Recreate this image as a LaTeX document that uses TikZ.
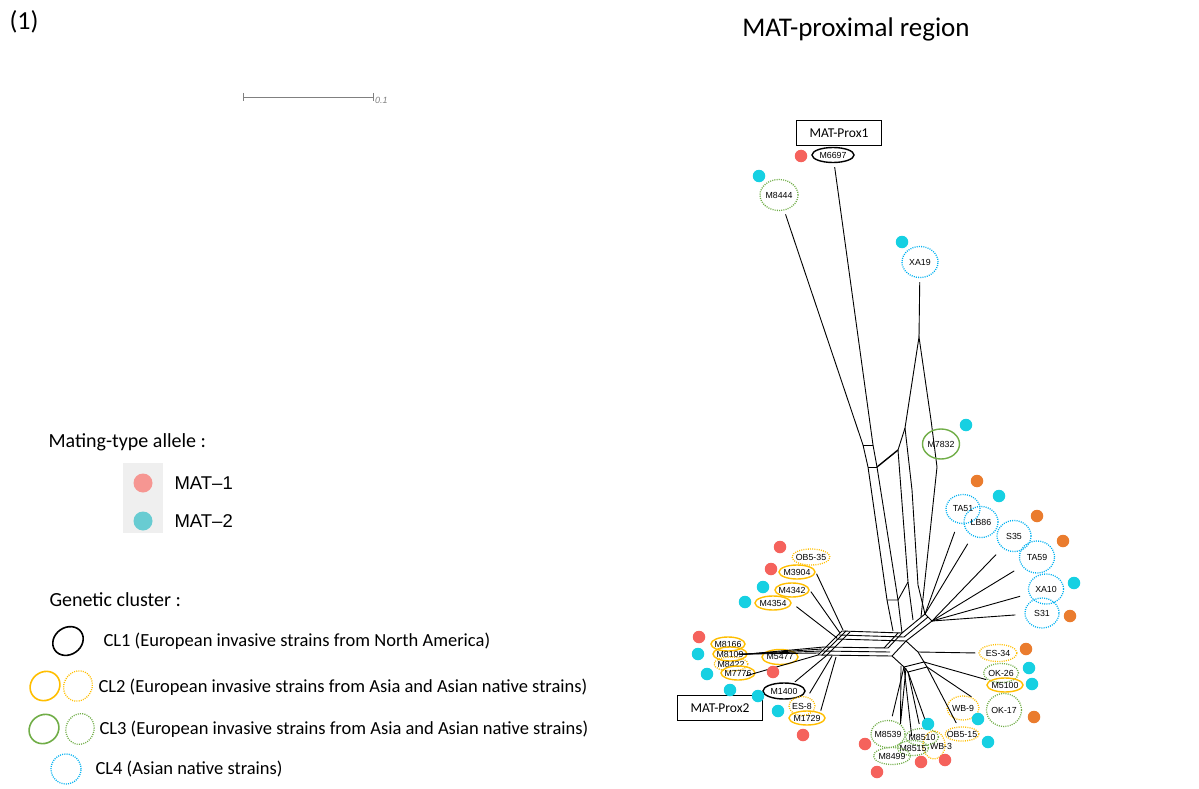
\documentclass[tikz,border=0pt]{standalone}
\usepackage{fontspec}
\setmainfont{Carlito}
\newfontfamily\arialfont{Liberation Sans}
\usetikzlibrary{shapes.geometric}
\definecolor{matred}{RGB}{245,98,92}
\definecolor{matcyan}{RGB}{22,208,226}
\definecolor{matorange}{RGB}{234,124,46}
\definecolor{legred}{RGB}{246,150,146}
\definecolor{legcyan}{RGB}{104,204,210}
\definecolor{clyellow}{RGB}{255,190,0}
\definecolor{clgreen}{RGB}{112,173,71}
\definecolor{clblue}{RGB}{0,176,240}
\definecolor{legbox}{RGB}{239,239,239}
\tikzset{
  net/.style={line width=0.9pt,black},
  pend/.style={net,shorten >=4pt},
  strain/.style={ellipse,inner sep=0pt,line width=1.4pt},
  dotline/.style={line width=1.3pt,dash pattern=on 1pt off 1.2pt},
  cla/.style={strain,draw=black},
  clb/.style={strain,draw=clyellow},
  clbn/.style={strain,draw=clyellow,dotline},
  clc/.style={strain,draw=clgreen},
  clcn/.style={strain,draw=clgreen,dotline},
  cldn/.style={strain,draw=clblue,dotline},
  sz/.style 2 args={minimum width=#1pt,minimum height=#2pt},
  lbl/.style={font=\arialfont\fontsize{8.8}{9}\selectfont,inner sep=0pt},
  lab/.style={label={[lbl]center:#1}},
  m1/.style={circle,fill=matred,minimum size=12.5pt,inner sep=0pt},
  m2/.style={circle,fill=matcyan,minimum size=12.5pt,inner sep=0pt},
  m3/.style={circle,fill=matorange,minimum size=12.5pt,inner sep=0pt},
  prox/.style={draw,line width=1pt,minimum width=85pt,minimum height=25pt,font=\fontsize{13.5}{15}\selectfont},
  head/.style={anchor=west,font=\fontsize{20}{24}\selectfont},
  cltext/.style={anchor=west,font=\fontsize{18.5}{22}\selectfont}
}
\begin{document}
\begin{tikzpicture}[x=1pt,y=-1pt]
\useasboundingbox (0,0) rectangle (1199,789);

\node[anchor=west,font=\fontsize{26}{30}\selectfont] (panel) at (6,22) {(1)};
\node[font=\fontsize{27}{31}\selectfont] (title) at (856,29) {MAT-proximal region};

% scale bar
\draw[gray,line width=0.7pt] (243,97) -- (373,97) (243,93) -- (243,101) (373,93) -- (373,101);
\node[anchor=west,text=gray,font=\arialfont\itshape\fontsize{9}{10}\selectfont,inner sep=1pt] (scale) at (374,100) {0.1};

% network body
\coordinate (p1) at (863,445);
\coordinate (p2) at (873,445);
\coordinate (p3) at (868,467);
\coordinate (p4) at (877,467);
\coordinate (x0) at (919,337);
\coordinate (x1) at (905,428);
\coordinate (x2) at (898,450);
\coordinate (x3) at (931,420);
\draw[net] (p1) -- (p2) (p3) -- (p4);
\draw[net] (p1) -- (p3) -- (887,600) -- (893,631);
\draw[net] (p2) -- (p4) -- (898,600) -- (902,633);
\draw[net] (887,600) -- (898,600) -- (908,582);
\draw[net,line width=1.4pt] (p4) -- (x2);
\draw[net] (x2) -- (x1) -- (x0) -- (x3) -- (937,467) -- (921,617);
\draw[net] (x2) -- (908,582) -- (913,620);
\draw[net] (x1) -- (912,490) -- (918,585) -- (925,614);
\draw[net] (842,631) -- (902,633) (839,635) -- (904,637) (836,639) -- (906,641);
\draw[net] (824,647) -- (888,648) (821,651) -- (890,652) (818,655) -- (892,656);
\draw[net] (842,631) -- (818,655) (850,632) -- (826,656) (846,631) -- (822,655);
\draw[net] (902,633) -- (888,648) (906,641) -- (892,656) (898,633) -- (884,648);
\draw[net] (902,633) -- (925,614) -- (932,621) -- (906,641);
\draw[net] (904,637) -- (928,617);
\draw[net] (892,656) -- (904,667) -- (924,662) -- (918,652) -- (906,641);
\draw[net] (904,667) -- (908,672) -- (927,667) -- (924,662);

% strains
\node[prox] (prox1) at (839,133) {MAT-Prox1};
\node[prox] (prox2) at (720,708) {MAT-Prox2};
\node[cla,sz={42}{15},lab=M6697] (m6697) at (833,155) {};
\node[clcn,sz={38}{31},lab=M8444] (m8444) at (779,195) {};
\node[cldn,sz={36}{31},lab=XA19] (xa19) at (920,262) {};
\node[clc,sz={37}{30},lab=M7832] (m7832) at (941,444) {};
\node[cldn,sz={34}{29},lab=TA51] (ta51) at (963,509) {};
\node[cldn,sz={34}{31},lab=LB86] (lb86) at (981,522) {};
\node[cldn,sz={34}{31},lab=S35] (s35) at (1014,536) {};
\node[cldn,sz={35}{32},lab=TA59] (ta59) at (1037,557) {};
\node[cldn,sz={35}{30},lab=XA10] (xa10) at (1046,589) {};
\node[cldn,sz={34}{30},lab=S31] (s31) at (1042,613) {};
\node[clbn,sz={38}{17},lab=ES-34] (es34) at (998,653) {};
\node[clcn,sz={35}{19},lab=OK-26] (ok26) at (1001,673) {};
\node[clb,sz={36}{14},lab=M5100] (m5100) at (1005,685) {};
\node[clcn,sz={35}{33},lab=OK-17] (ok17) at (1004,710) {};
\node[clbn,sz={32}{24},lab=WB-9] (wb9) at (963,708) {};
\node[clbn,sz={34}{14},lab=OB5-15] (ob515) at (962,734) {};
\node[clbn,sz={22}{28}] (wb3) at (934,745) {};
\node[lbl] (wb3t) at (941,746) {WB-3};
\node[clcn,sz={33}{17},lab=M8510] (m8510) at (922,737) {};
\node[clcn,sz={31}{15},lab=M8515] (m8515) at (913,748) {};
\node[clcn,sz={34}{27},lab=M8539] (m8539) at (888,734) {};
\node[clcn,sz={37}{17},lab=M8499] (m8499) at (892,756) {};
\node[clbn,sz={38}{16},lab=OB5-35] (ob535) at (811,557) {};
\node[clb,sz={36}{14},lab=M3904] (m3904) at (797,572) {};
\node[clb,sz={34}{14},lab=M4342] (m4342) at (792,590) {};
\node[clb,sz={36}{14},lab=M4354] (m4354) at (773,603) {};
\node[clb,sz={34}{14},lab=M8166] (m8166) at (728,644) {};
\node[clb,sz={34}{14},lab=M8109] (m8109) at (730,654) {};
\node[clbn,sz={34}{14},lab=M8422] (m8422) at (731,664) {};
\node[clb,sz={34}{14},lab=M7776] (m7776) at (738,673) {};
\node[clb,sz={36}{15},lab=M5477] (m5477) at (780,657) {};
\node[cla,sz={42}{16},lab=M1400] (m1400) at (784,691) {};
\node[clbn,sz={26}{19},lab=ES-8] (es8) at (802,706) {};
\node[clb,sz={36}{14},lab=M1729] (m1729) at (807,718) {};

% pendant edges
\draw[pend] (p2) -- (m6697);
\draw[pend] (p1) -- (m8444);
\draw[pend] (x0) -- (xa19);
\draw[pend,shorten >=9pt] (925,614) -- (ta51);
\draw[pend,shorten >=9pt] (925,614) -- (lb86);
\draw[pend,shorten >=9pt] (932,621) -- (s35);
\draw[pend,shorten >=9pt] (932,621) -- (ta59);
\draw[pend,shorten >=9pt] (932,621) -- (xa10);
\draw[pend,shorten >=9pt] (932,621) -- (s31);
\draw[pend,shorten >=3pt] (918,652) -- (es34.west);
\draw[pend,shorten >=2pt] (924,662) -- (ok26.south west);
\draw[pend] (927,667) -- (wb9.north east);
\draw[pend] (927,667) -- (ob515);
\draw[pend] (908,672) -- (wb3);
\draw[pend] (908,672) -- (m8510);
\draw[pend] (904,667) -- (m8515);
\draw[pend] (904,667) -- (m8539);
\draw[net] (901,666) -- (m8539.north east) (906,668) -- (m8539.north east);
\draw[pend,shorten >=2pt] (843,630) -- (m3904.east);
\draw[pend,shorten >=2pt] (840,633) -- (m4342.east);
\draw[pend,shorten >=6pt] (837,638) -- (m4354.east);
\draw[pend,shorten >=-6pt] (824,647) -- (m8109.east);
\draw[pend,shorten >=-6pt] (822,649) -- (m8109.east);
\draw[pend,shorten >=-8pt] (821,651) -- (m8109.east);
\draw[pend,shorten >=-10pt] (819,653) -- (m8109.east);
\draw[pend,shorten >=-10pt] (818,655) -- (m7776.east);
\draw[pend,shorten >=2pt] (826,656) -- (m1400.40);
\draw[pend] (832,656) -- (es8);
\draw[pend,shorten >=2pt] (836,657) -- (m1729.north east);

% mating-type dots
\foreach \n/\s/\x/\y in {6697/m1/801/156, 8444/m2/759/176, xa19/m2/902/242, 7832/m2/966/425,
    ta51/m3/977/481, lb86/m2/999/496, s35/m3/1037/516, ta59/m3/1063/541, xa10/m2/1074/583,
    s31/m3/1070/616, es34/m3/1026/649, ok26/m2/1029/668, 5100/m2/1032/684, ok17/m3/1034/717,
    wb9/m2/978/719, ob515/m2/988/742, wb3/m1/945/760, 8510/m2/928/724, 8515/m1/921/762,
    8539/m1/865/744, 8499/m1/877/772, ob535/m1/780/547, 3904/m1/771/569, 4342/m2/763/587,
    4354/m2/745/602, 8166/m1/699/637, 8109/m2/698/654, 7776/m2/707/674, 5477/m1/773/672,
    8422/m2/730/690, 1400/m2/758/696, es8/m2/778/711, 1729/m1/803/735}
  \node[\s] (d\n) at (\x,\y) {};

% legend
\node[head] (mathead) at (45,442) {Mating-type allele :};
\node[fill=legbox,minimum width=40pt,minimum height=70pt,inner sep=0pt] (legbg) at (143,498) {};
\node[circle,fill=legred,minimum size=19pt,inner sep=0pt] (leg1) at (143,483) {};
\node[circle,fill=legcyan,minimum size=19pt,inner sep=0pt] (leg2) at (143,521) {};
\node[anchor=west,font=\arialfont\fontsize{18.5}{20}\selectfont] (legt1) at (171,483) {MAT–1};
\node[anchor=west,font=\arialfont\fontsize{18.5}{20}\selectfont] (legt2) at (171,521) {MAT–2};

\node[head] (clhead) at (46,600) {Genetic cluster :};
\node[cla,sz={32}{27},rotate=35,line width=1.6pt] (lcl1) at (68,641) {};
\node[clb,sz={31}{28},rotate=40,line width=1.6pt] (lcl2a) at (45,686) {};
\node[clbn,sz={31}{28},rotate=60] (lcl2b) at (78,686) {};
\node[clc,sz={31}{28},rotate=40,line width=1.6pt] (lcl3a) at (44,729) {};
\node[clcn,sz={31}{28},rotate=70] (lcl3b) at (80,729) {};
\node[cldn,sz={30}{30}] (lcl4) at (66,769) {};
\node[cltext] (cl1t) at (100,641) {CL1 (European invasive strains from North America)};
\node[cltext] (cl2t) at (95,687) {CL2 (European invasive strains from Asia and Asian native strains)};
\node[cltext] (cl3t) at (96,729) {CL3 (European invasive strains from Asia and Asian native strains)};
\node[cltext] (cl4t) at (92,769) {CL4 (Asian native strains)};
\end{tikzpicture}
\end{document}
